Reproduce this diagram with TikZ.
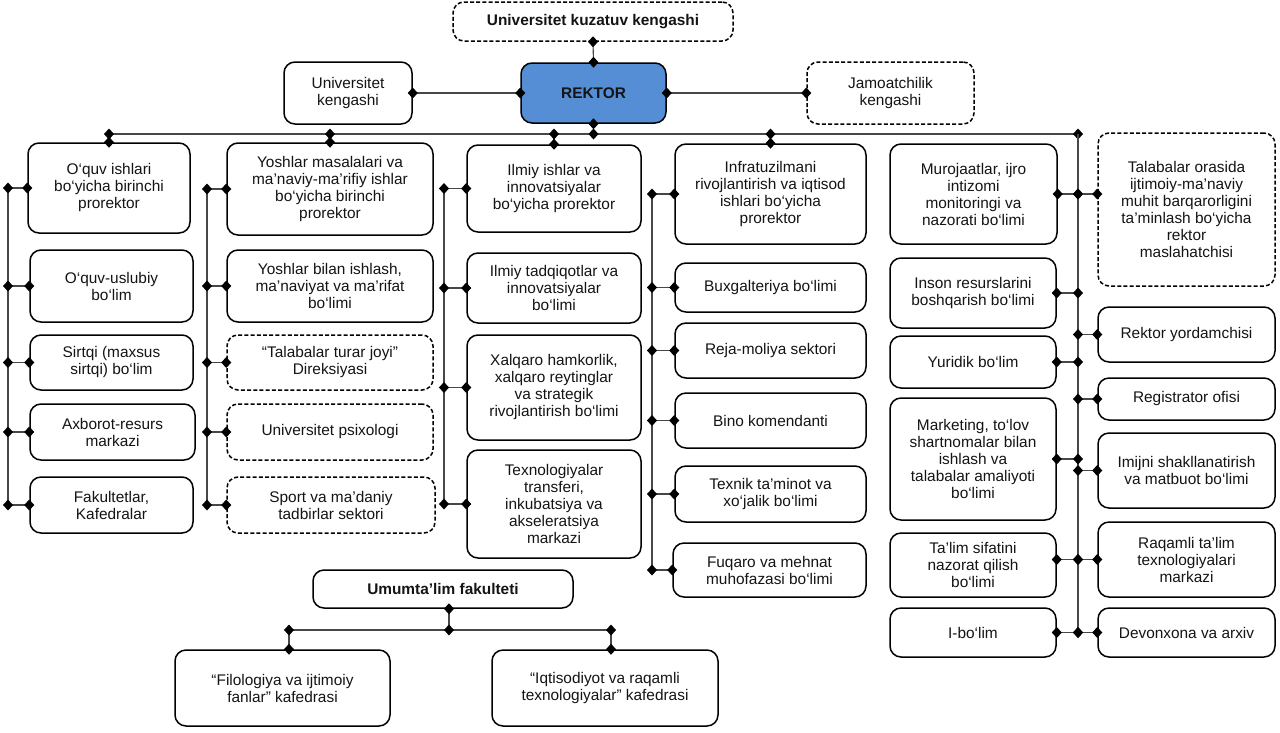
\documentclass[tikz,border=0pt]{standalone}
\usepackage{fontspec}
\setmainfont{Liberation Sans}
\usetikzlibrary{calc}
\definecolor{rekblue}{RGB}{85,142,213}
\newcommand\dm[1]{\fill[black] #1 ++(0,-5.5) -- ++(5,5.5) -- ++(-5,5.5) -- ++(-5,-5.5) -- cycle;}
\newcommand\link[2]{\draw[con] #1 -- #2; \dm{#1}\dm{#2}}
\newcommand\mybox[7][]{%
  \pgfmathsetmacro\bw{#5-#3}\pgfmathsetmacro\bh{#6-#4}%
  \node[box,#1,minimum width=\bw pt,minimum height=\bh pt] (#2) at ({(#3+#5)/2},{(#4+#6)/2}) {#7};}
\begin{document}
\begin{tikzpicture}[x=1pt,y=-1pt,
  box/.style={draw=black,line width=1.5pt,rounded corners=11pt,fill=white,align=center,
    inner sep=0pt,font=\fontsize{15.4}{17}\selectfont,text=black!92},
  dbox/.style={dash pattern=on 4pt off 2.2pt},
  bold/.style={font=\fontsize{15.4}{17}\selectfont\bfseries},
  con/.style={draw=black!72,line width=1.1pt}]
\useasboundingbox[fill=white] (0,0) rectangle (1280,732);

% top level
\mybox[dbox,bold]{kuz}{453}{2}{733}{41}{Universitet kuzatuv kengashi}
\mybox[bold,fill=rekblue]{rek}{521}{63}{666}{123}{REKTOR}
\mybox{uk}{284}{62}{412}{124}{Universitet\\kengashi}
\mybox[dbox]{jk}{807}{62}{974}{124}{Jamoatchilik\\kengashi}

% column 1
\mybox{c11}{28}{143}{190}{233}{O‘quv ishlari\\bo‘yicha birinchi\\prorektor}
\mybox{c12}{30}{250}{193}{322}{O‘quv-uslubiy\\bo‘lim}
\mybox{c13}{30}{335}{193}{390}{Sirtqi (maxsus\\sirtqi) bo‘lim}
\mybox{c14}{30}{404}{195}{460}{Axborot-resurs\\markazi}
\mybox{c15}{30}{477}{193}{533}{Fakultetlar,\\Kafedralar}

% column 2
\mybox{c21}{227}{143}{433}{235}{Yoshlar masalalari va\\ma’naviy-ma’rifiy ishlar\\bo‘yicha birinchi\\prorektor}
\mybox{c22}{227}{250}{433}{322}{Yoshlar bilan ishlash,\\ma’naviyat va ma’rifat\\bo‘limi}
\mybox[dbox]{c23}{227}{335}{433}{390}{“Talabalar turar joyi”\\Direksiyasi}
\mybox[dbox]{c24}{227}{404}{433}{460}{Universitet psixologi}
\mybox[dbox]{c25}{227}{477}{435}{533}{Sport va ma’daniy\\tadbirlar sektori}

% column 3
\mybox{c31}{467}{145}{641}{232}{Ilmiy ishlar va\\innovatsiyalar\\bo‘yicha prorektor}
\mybox{c32}{467}{253}{641}{323}{Ilmiy tadqiqotlar va\\innovatsiyalar\\bo‘limi}
\mybox{c33}{467}{335}{641}{440}{Xalqaro hamkorlik,\\xalqaro reytinglar\\va strategik\\rivojlantirish bo‘limi}
\mybox{c34}{467}{450}{641}{558}{Texnologiyalar\\transferi,\\inkubatsiya va\\akseleratsiya\\markazi}

% column 4
\mybox{c41}{675}{144}{866}{244}{Infratuzilmani\\rivojlantirish va iqtisod\\ishlari bo‘yicha\\prorektor}
\mybox{c42}{675}{263}{866}{312}{Buxgalteriya bo‘limi}
\mybox{c43}{675}{323}{866}{378}{Reja-moliya sektori}
\mybox{c44}{675}{393}{866}{448}{Bino komendanti}
\mybox{c45}{675}{466}{866}{522}{Texnik ta’minot va\\xo‘jalik bo‘limi}
\mybox{c46}{673}{543}{866}{597}{Fuqaro va mehnat\\muhofazasi bo‘limi}

% right block, left boxes
\mybox{l1}{890}{144}{1057}{244}{Murojaatlar, ijro\\intizomi\\monitoringi va\\nazorati bo‘limi}
\mybox{l2}{890}{258}{1056}{328}{Inson resurslarini\\boshqarish bo‘limi}
\mybox{l3}{890}{336}{1056}{388}{Yuridik bo‘lim}
\mybox{l4}{890}{398}{1056}{520}{Marketing, to‘lov\\shartnomalar bilan\\ishlash va\\talabalar amaliyoti\\bo‘limi}
\mybox{l5}{890}{533}{1056}{597}{Ta’lim sifatini\\nazorat qilish\\bo‘limi}
\mybox{l6}{890}{608}{1056}{657}{I-bo‘lim}

% right block, right boxes
\mybox[dbox]{r1}{1098}{133}{1275}{286}{Talabalar orasida\\ijtimoiy-ma’naviy\\muhit barqarorligini\\ta’minlash bo‘yicha\\rektor\\maslahatchisi}
\mybox{r2}{1098}{307}{1275}{362}{Rektor yordamchisi}
\mybox{r3}{1098}{378}{1275}{420}{Registrator ofisi}
\mybox{r4}{1098}{433}{1275}{508}{Imijni shakllanatirish\\va matbuot bo‘limi}
\mybox{r5}{1098}{522}{1275}{597}{Raqamli ta’lim\\texnologiyalari\\markazi}
\mybox{r6}{1098}{608}{1275}{657}{Devonxona va arxiv}

% bottom
\mybox[bold]{uf}{313}{570}{573}{608}{Umumta’lim fakulteti}
\mybox{f1}{175}{650}{390}{726}{“Filologiya va ijtimoiy\\fanlar” kafedrasi}
\mybox{f2}{492}{650}{718}{726}{“Iqtisodiyot va raqamli\\texnologiyalar” kafedrasi}

% ---------- connectors ----------
\coordinate (bL) at (109,134);
\coordinate (bR) at (1078,134);
\draw[con] (bL) -- (bR);
\dm{(bR)}
\link{(kuz.south)}{(rek.north)}
\link{(uk.east)}{(rek.west)}
\link{(rek.east)}{(jk.west)}
\link{(rek.south)}{(rek.south |- bL)}
\foreach \n in {c11,c21,c31,c41}{\link{(\n.north |- bL)}{(\n.north)}}

% column trunks
\coordinate (t1) at (8,0);
\coordinate (t2) at (207,0);
\coordinate (t3) at (444,0);
\coordinate (t4) at (652,0);
\draw[con] (c11.west -| t1) -- (c15.west -| t1);
\foreach \n in {c11,c12,c13,c14,c15}{\link{(\n.west -| t1)}{(\n.west)}}
\draw[con] (c21.west -| t2) -- (c25.west -| t2);
\foreach \n in {c21,c22,c23,c24,c25}{\link{(\n.west -| t2)}{(\n.west)}}
\draw[con] (c31.west -| t3) -- (c34.west -| t3);
\foreach \n in {c31,c32,c33,c34}{\link{(\n.west -| t3)}{(\n.west)}}
\draw[con] (c41.west -| t4) -- (c46.west -| t4);
\foreach \n in {c41,c42,c43,c44,c45,c46}{\link{(\n.west -| t4)}{(\n.west)}}

% right trunk
\draw[con] (bR) -- (r6.west -| bR);
\link{(l1.east)}{(l1.east -| bR)}
\link{(l1.east -| bR)}{(r1.west |- l1.east)}
\foreach \n in {l2,l3,l4,l6}{\link{(\n.east)}{(\n.east -| bR)}}
\link{(l5.east |- r5.west)}{(r5.west -| bR)}
\foreach \n in {r2,r3,r4,r5,r6}{\link{(\n.west -| bR)}{(\n.west)}}

% bottom tree
\coordinate (u0) at (449,630);
\coordinate (u1) at (289,630);
\coordinate (u2) at (611,630);
\draw[con] (u1) -- (u2);
\link{(uf.south -| u0)}{(u0)}
\link{(u1)}{(f1.north -| u1)}
\link{(u2)}{(f2.north -| u2)}
\end{tikzpicture}
\end{document}
